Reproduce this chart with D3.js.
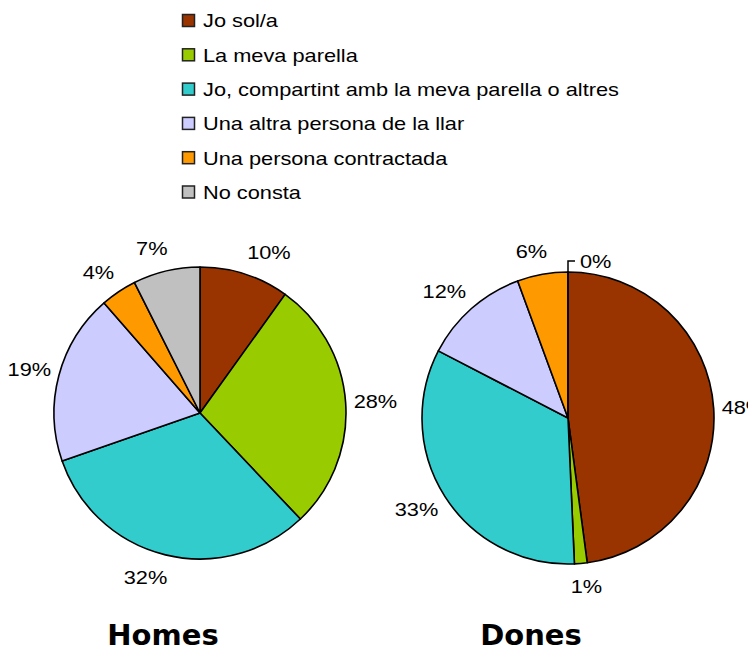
<!DOCTYPE html>
<html>
<head>
<meta charset="utf-8">
<script src="https://cdn.jsdelivr.net/npm/d3@7"></script>
<style>
  body { margin: 0; background: #fff; }
  svg { display: block; font-family: "Liberation Sans", Arial, sans-serif; }
</style>
</head>
<body>
<script>
//categories shared by both pies
var categories = [
    "Jo sol/a",
    "La meva parella",
    "Jo, compartint amb la meva parella o altres",
    "Una altra persona de la llar",
    "Una persona contractada",
    "No consta"
];
var colors = ["#993300", "#99cc00", "#33cccc", "#ccccff", "#ff9900", "#c0c0c0"];

//percent values
var homesValues = [9.9, 28.0, 31.7, 18.9, 4.0, 7.4];
var donesValues = [47.9, 1.4, 33.3, 11.8, 5.6, 0];
var titles = ["Homes", "Dones"];

window.onload = drawChart();

function drawChart() {
    var width = 748,
        height = 650;

    var svg = d3.select("body")
        .append("svg")
        .attr("width", width)
        .attr("height", height);

    //text in the reference is drawn a bit wide
    var stretch = 1.17,
        fontSize = 18.6;

    //legend
    var legend = svg.append("g").attr("class", "legend");
    var rowY = d3.scalePoint()
        .domain(d3.range(categories.length))
        .range([20.5, 192]);

    var rows = legend.selectAll(".row")
        .data(categories)
        .enter()
        .append("g")
        .attr("class", "row")
        .attr("transform", function(d, i){ return "translate(182," + rowY(i) + ")"; });

    rows.append("rect")
        .attr("x", 0.5)
        .attr("y", -6)
        .attr("width", 12)
        .attr("height", 12)
        .attr("fill", function(d, i){ return colors[i]; })
        .attr("stroke", "#222")
        .attr("stroke-width", 1.5);

    rows.append("text")
        .attr("transform", "translate(21,6.8) scale(" + stretch + ",1)")
        .attr("font-size", fontSize)
        .attr("fill", "#000")
        .text(function(d){ return d; });

    //pies
    var radius = 146;
    var pies = [
        { values: homesValues, cx: 200, cy: 413, title: titles[0] },
        { values: donesValues, cx: 568, cy: 418, title: titles[1] }
    ];

    var pie = d3.pie()
        .sort(null)
        .value(function(d){ return d; });

    var arc = d3.arc()
        .innerRadius(0)
        .outerRadius(radius);

    pies.forEach(function(p){
        var total = d3.sum(p.values);
        var g = svg.append("g")
            .attr("transform", "translate(" + p.cx + "," + p.cy + ")");

        var slices = pie(p.values);

        g.selectAll(".slice")
            .data(slices)
            .enter()
            .append("path")
            .attr("class", "slice")
            .attr("d", arc)
            .attr("fill", function(d, i){ return colors[i]; })
            .attr("stroke", "#000")
            .attr("stroke-width", 1.6)
            .attr("stroke-linejoin", "round");

        //labels outside the pie
        slices.forEach(function(d){
            var label = Math.round(d.value / total * 100) + "%";
            var a = (d.startAngle + d.endAngle) / 2;
            var sin = Math.sin(a), cos = Math.cos(a);

            if (d.value === 0) {
                //zero slice: leader line up from the rim
                var x0 = radius * sin, y0 = -radius * cos,
                    y1 = y0 - 11;
                g.append("path")
                    .attr("d", "M" + x0 + "," + y0 + "V" + y1 + "h7")
                    .attr("fill", "none")
                    .attr("stroke", "#000")
                    .attr("stroke-width", 1.5);
                g.append("text")
                    .attr("transform", "translate(" + (x0 + 12) + "," + (y1 + 6.8) + ") scale(" + stretch + ",1)")
                    .attr("font-size", fontSize)
                    .text(label);
                return;
            }

            var t = g.append("text")
                .attr("font-size", fontSize)
                .attr("text-anchor", "middle")
                .text(label);
            var w = t.node().getComputedTextLength() * stretch;
            var R = radius + 8;
            var kx = Math.max(-1, Math.min(1, sin * 3.5));
            var x = R * sin + kx * w / 2,
                y = -R * cos - 15 * cos;
            t.attr("transform", "translate(" + x + "," + (y + 6.8) + ") scale(" + stretch + ",1)");
        });

        svg.append("text")
            .attr("x", p.cx - 37)
            .attr("y", 645)
            .attr("text-anchor", "middle")
            .attr("font-family", "'DejaVu Sans', sans-serif")
            .attr("font-weight", "bold")
            .attr("font-size", 29)
            .text(p.title);
    });
};
</script>
</body>
</html>
